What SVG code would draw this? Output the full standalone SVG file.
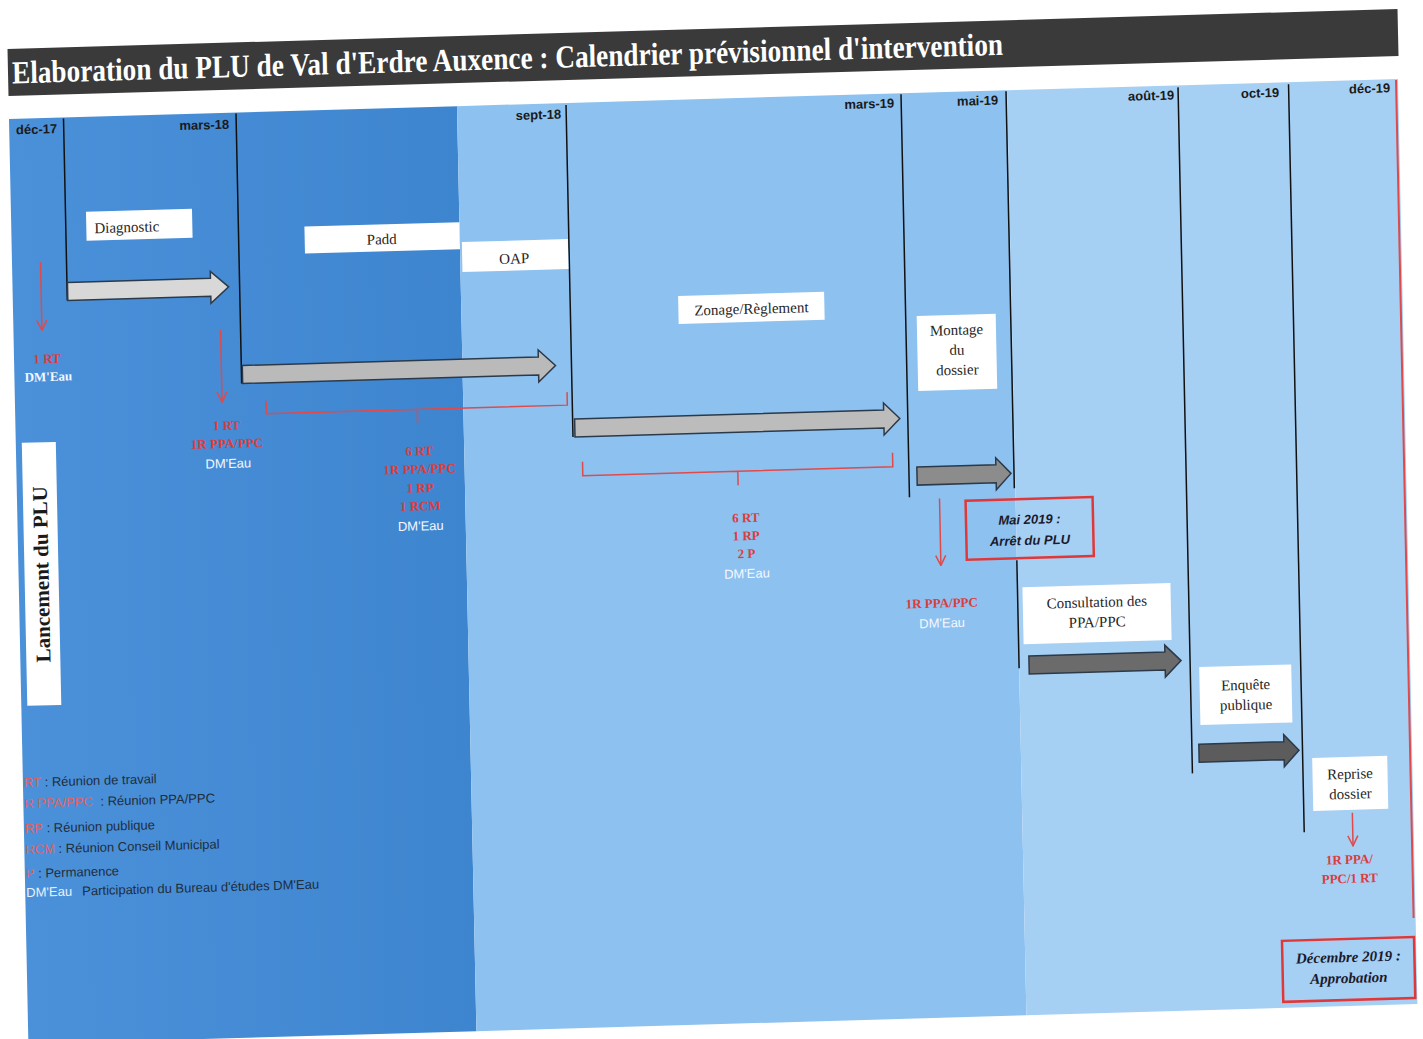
<svg xmlns="http://www.w3.org/2000/svg" width="1423" height="1039" viewBox="0 0 1423 1039">
<defs>
<style>
.lbl{font-family:"Liberation Sans",Arial,sans-serif;font-weight:bold;font-size:13px;fill:#1a1a1a;text-anchor:end}
.box{fill:#ffffff}
.bt{font-family:"Liberation Serif","Times New Roman",serif;font-size:15px;fill:#262626;text-anchor:middle}
.red{font-family:"Liberation Serif","Times New Roman",serif;font-weight:bold;font-size:13px;fill:#dd3c3c;text-anchor:middle}
.wh{font-family:"Liberation Sans",Arial,sans-serif;font-size:13px;fill:#f4f8ff;text-anchor:middle}
.whs{font-family:"Liberation Serif","Times New Roman",serif;font-weight:bold;font-size:13px;fill:#f4f8ff;text-anchor:middle}
.vl{stroke:#111;stroke-width:1.5;fill:none}
.arr{stroke:#2b3a4a;stroke-width:1.5}
.rl{stroke:#e04a4a;stroke-width:1.5;fill:none}
.rbox{fill:none;stroke:#e03838;stroke-width:2.5}
.leg{font-family:"Liberation Sans",Arial,sans-serif;font-size:13px;fill:#1f2d3d}
.legr{fill:#e46060}
.legw{fill:#e8f0fa}
.mai{font-family:"Liberation Sans",Arial,sans-serif;font-weight:bold;font-style:italic;font-size:13px;fill:#1a1a2a;text-anchor:middle}
.dec{font-family:"Liberation Serif","Times New Roman",serif;font-weight:bold;font-style:italic;font-size:15px;fill:#1a1a2a;text-anchor:middle}
</style>
<linearGradient id="gDark" x1="0" y1="0" x2="1" y2="0">
<stop offset="0" stop-color="#4b91da"/>
<stop offset="1" stop-color="#3e85cf"/>
</linearGradient>
<marker id="rh" markerUnits="userSpaceOnUse" markerWidth="12" markerHeight="12" viewBox="0 0 12 12" refX="11" refY="6" orient="auto">
<path d="M1,1 L11,6 L1,11" fill="none" stroke="#e04a4a" stroke-width="1.5"/>
</marker>
</defs>
<rect x="0" y="0" width="1423" height="1039" fill="#ffffff"/>
<g transform="matrix(1 -0.0288 0.021 1 -2.52 0.29)">
<g id="background">
<rect x="9" y="119" width="448" height="925" fill="url(#gDark)"/>
<rect x="457" y="119" width="550" height="925" fill="#8dc1ef"/>
<rect x="1007" y="119" width="391" height="925" fill="#a6cff4"/>
</g>
<g id="title">
<rect x="9" y="49" width="1390" height="47" fill="#3a3a3a"/>
<text x="13" y="83.5" textLength="991" lengthAdjust="spacingAndGlyphs" font-family="'Liberation Serif','Times New Roman',serif" font-weight="bold" font-size="32" fill="#ffffff">Elaboration du PLU de Val d'Erdre Auxence  : Calendrier prévisionnel d'intervention</text>
</g>
<g id="timeline">
<text class="lbl" x="57" y="134.5">déc-17</text>
<text class="lbl" x="229" y="135">mars-18</text>
<text class="lbl" x="561" y="134.5">sept-18</text>
<text class="lbl" x="894" y="133">mars-19</text>
<text class="lbl" x="998" y="133">mai-19</text>
<text class="lbl" x="1174" y="133">août-19</text>
<text class="lbl" x="1279" y="133.5">oct-19</text>
<text class="lbl" x="1390" y="132">déc-19</text>
</g>
<g id="connectors">
<line class="vl" x1="63.5" y1="120" x2="63.5" y2="302"/>
<line class="vl" x1="236" y1="120" x2="236" y2="390"/>
<line class="vl" x1="566" y1="121" x2="566" y2="453"/>
<line class="vl" x1="901" y1="120" x2="901" y2="523"/>
<line class="vl" x1="1006" y1="120" x2="1006" y2="517" stroke-width="3"/>
<line class="vl" x1="1007" y1="589" x2="1007" y2="697" stroke-width="2.5"/>
<line class="vl" x1="1178" y1="121" x2="1178" y2="807" stroke-width="2"/>
<line class="vl" x1="1288.5" y1="121" x2="1288.5" y2="869" stroke-width="2"/>
<line x1="1396" y1="120" x2="1396" y2="958" stroke="#e04a4a" stroke-width="2"/>
<polygon class="arr" fill="#d8d8d8" points="64,284 207,284 207,277 225,293 207,309 207,302 64,302"/>
<polygon class="arr" fill="#bababa" points="237,372 533,372 533,365 550,381 533,397 533,390 237,390"/>
<polygon class="arr" fill="#bcbcbc" points="568,435 877,435 877,428 893,444 877,460 877,453 568,453"/>
<polygon class="arr" fill="#8c8c8c" points="909,493 988,493 988,486 1003,502 988,518 988,511 909,511"/>
<polygon class="arr" fill="#6b6b6b" points="1017,685 1153,685 1153,678 1169,694 1153,710 1153,703 1017,703"/>
<polygon class="arr" fill="#5c5c5c" points="1185,778 1270,778 1270,771 1285,787 1270,803 1270,796 1185,796"/>
<line class="rl" x1="37.5" y1="263" x2="37.5" y2="331" marker-end="url(#rh)"/>
<line class="rl" x1="216" y1="336" x2="216" y2="408" marker-end="url(#rh)"/>
<line class="rl" x1="931" y1="525" x2="931" y2="592" marker-end="url(#rh)"/>
<line class="rl" x1="1337" y1="851" x2="1337" y2="884" marker-end="url(#rh)"/>
<path class="rl" d="M260,408 V421 H561 V408 M411,421 V435"/>
<path class="rl" d="M575,478 V492 H885 V478 M730,492 V506"/>
</g>
<g id="n-lancement">
<rect class="box" x="15" y="443" width="34" height="263"/>
<text transform="translate(39,575) rotate(-90)" x="0" y="0" font-family="'Liberation Serif','Times New Roman',serif" font-weight="bold" font-size="21" fill="#1a1a1a" text-anchor="middle">Lancement du PLU</text>
</g>
<g id="n-diagnostic">
<rect class="box" x="84" y="214" width="106" height="29"/>
<text class="bt" x="92" y="235.5" style="text-anchor:start">Diagnostic</text>
</g>
<g id="n-padd">
<rect class="box" x="302" y="235" width="155" height="27"/>
<text class="bt" x="379" y="255">Padd</text>
</g>
<g id="n-oap">
<rect class="box" x="459" y="255" width="106" height="30"/>
<text class="bt" x="511" y="278">OAP</text>
</g>
<g id="n-zonage">
<rect class="box" x="674" y="315" width="146" height="28"/>
<text class="bt" x="747" y="335">Zonage/Règlement</text>
</g>
<g id="n-montage">
<rect class="box" x="912" y="342" width="79" height="75"/>
<text class="bt" x="951.5" y="362">Montage</text>
<text class="bt" x="951.5" y="382">du</text>
<text class="bt" x="951.5" y="402">dossier</text>
</g>
<g id="n-mai">
<rect class="rbox" x="957" y="528" width="127" height="59"/>
<text class="mai" x="1020.5" y="553">Mai 2019 :</text>
<text class="mai" x="1020.5" y="574">Arrêt du PLU</text>
</g>
<g id="n-consultation">
<rect class="box" x="1012" y="616" width="148" height="57"/>
<text class="bt" x="1086" y="638">Consultation des</text>
<text class="bt" x="1086" y="658">PPA/PPC</text>
</g>
<g id="n-enquete">
<rect class="box" x="1187" y="701" width="92" height="58"/>
<text class="bt" x="1233" y="725">Enquête</text>
<text class="bt" x="1233" y="745">publique</text>
</g>
<g id="n-reprise">
<rect class="box" x="1298" y="795" width="75" height="53"/>
<text class="bt" x="1335.5" y="817">Reprise</text>
<text class="bt" x="1335.5" y="837">dossier</text>
</g>
<g id="n-decembre">
<rect class="rbox" x="1264" y="977" width="132" height="61"/>
<text class="dec" x="1330" y="1000">Décembre 2019 :</text>
<text class="dec" x="1330" y="1021">Approbation</text>
</g>
<g id="meetings">
<text class="red" x="42" y="364">1 RT</text>
<text class="whs" x="43" y="382">DM'Eau</text>
<text class="red" x="220" y="436">1 RT</text>
<text class="red" x="220" y="454">1R PPA/PPC</text>
<text class="wh" x="221" y="474">DM'Eau</text>
<text class="red" x="412" y="467">6 RT</text>
<text class="red" x="412" y="485">1R PPA/PPC</text>
<text class="red" x="412" y="504">1 RP</text>
<text class="red" x="412" y="522">1 RCM</text>
<text class="wh" x="412" y="542">DM'Eau</text>
<text class="red" x="737" y="543">6 RT</text>
<text class="red" x="737" y="561">1 RP</text>
<text class="red" x="737" y="579">2 P</text>
<text class="wh" x="737" y="599">DM'Eau</text>
<text class="red" x="931" y="634">1R PPA/PPC</text>
<text class="wh" x="931" y="654">DM'Eau</text>
<text class="red" x="1333" y="902">1R PPA/</text>
<text class="red" x="1333" y="921">PPC/1 RT</text>
</g>
<g id="legend">
<text class="leg" x="10" y="787"><tspan class="legr">RT</tspan> : Réunion de travail</text>
<text class="leg" x="10" y="808"><tspan class="legr">R PPA/PPC</tspan><tspan x="86">: Réunion PPA/PPC</tspan></text>
<text class="leg" x="10" y="833"><tspan class="legr">RP</tspan> : Réunion publique</text>
<text class="leg" x="10" y="854"><tspan class="legr">RCM</tspan> : Réunion Conseil Municipal</text>
<text class="leg" x="10" y="878"><tspan class="legr">P</tspan> : Permanence</text>
<text class="leg" x="10" y="897"><tspan class="legw">DM'Eau</tspan><tspan x="66">Participation du Bureau d'études DM'Eau</tspan></text>
</g>
</g>
</svg>
